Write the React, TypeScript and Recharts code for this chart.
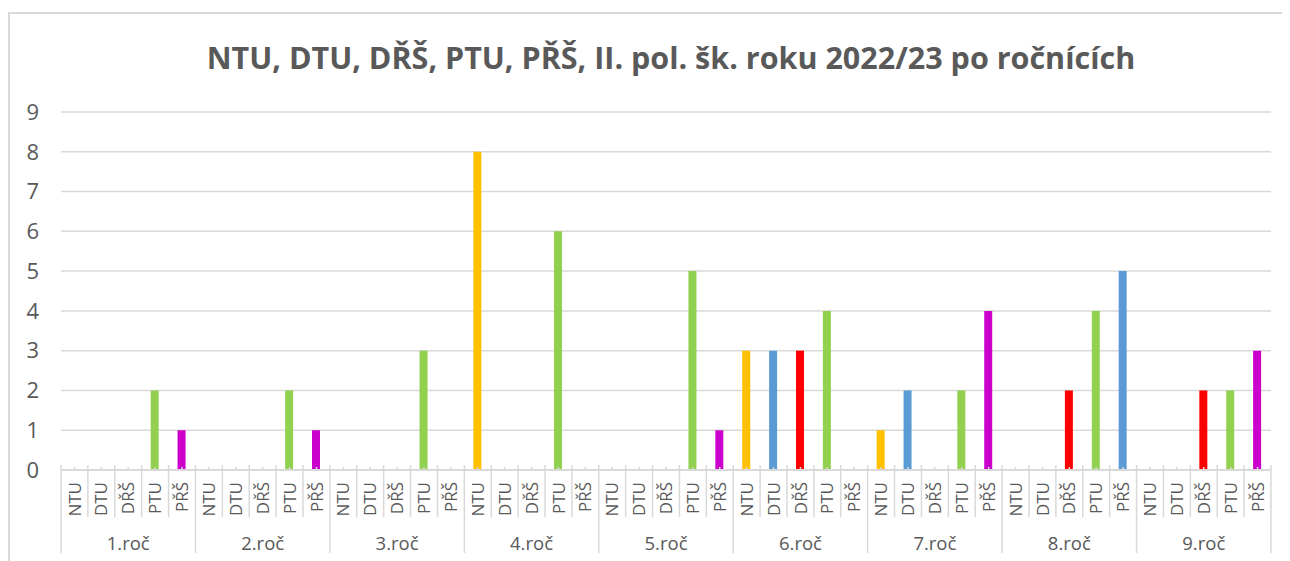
import React from 'react';
import { BarChart, Bar, XAxis, YAxis, CartesianGrid, Cell } from 'recharts';

const grades = ['1.roč', '2.roč', '3.roč', '4.roč', '5.roč', '6.roč', '7.roč', '8.roč', '9.roč'];
const subs = ['NTU', 'DTU', 'DŘŠ', 'PTU', 'PŘŠ'];
const ntu = [0, 0, 0, 8, 0, 3, 1, 0, 0];
const dtu = [0, 0, 0, 0, 0, 3, 2, 0, 0];
const drs = [0, 0, 0, 0, 0, 3, 0, 2, 2];
const ptu = [2, 2, 3, 6, 5, 4, 2, 4, 2];
const prs = [1, 1, 0, 0, 1, 0, 4, 5, 3];
const yTicks = [0, 1, 2, 3, 4, 5, 6, 7, 8, 9];

const subColors: Record<string, string> = {
  NTU: '#FFC000',
  DTU: '#5B9BD5',
  'DŘŠ': '#FF0000',
  PTU: '#92D050',
  'PŘŠ': '#CC00CC',
};
// point drawn in a different colour in the reference
const colorOverrides: Record<string, string> = { '8.roč|PŘŠ': '#5B9BD5' };

const seriesBySub = [ntu, dtu, drs, ptu, prs];
const data = grades.flatMap((g, gi) =>
  subs.map((s, si) => ({ key: `${g}|${s}`, grade: g, sub: s, value: seriesBySub[si][gi] }))
);

const TEXT = '#595959';
const LINE = '#D9D9D9';
const FONT = "'Open Sans', sans-serif";

const SubTick = (props: any) => {
  const { x, y, payload, index } = props;
  const off = payload && payload.offset ? payload.offset : 13.44;
  const d = data[index];
  const left = x - off;
  const isGroupStart = index % 5 === 0;
  const isLast = index === data.length - 1;
  return (
    <g>
      <line x1={left} x2={left} y1={y - 5} y2={isGroupStart ? y + 83 : y + 47} stroke={LINE} strokeWidth={1.5} />
      {isLast && <line x1={x + off} x2={x + off} y1={y - 5} y2={y + 83} stroke={LINE} strokeWidth={1.5} />}
      <line x1={x} x2={x} y1={y - 3} y2={y} stroke={LINE} strokeWidth={1.5} />
      <text
        x={x}
        y={y + 12}
        transform={`rotate(-90, ${x}, ${y + 12})`}
        textAnchor="end"
        dy="0.36em"
        fontSize={17}
        fill={TEXT}
        fontFamily={FONT}
      >
        {d ? d.sub : ''}
      </text>
      {index % 5 === 2 && d && (
        <text x={x} y={y + 73} textAnchor="middle" dy="0.36em" fontSize={18.5} fill={TEXT} fontFamily={FONT}>
          {d.grade}
        </text>
      )}
    </g>
  );
};

export default function App() {
  return (
    <div style={{ position: 'relative', width: 1282, height: 553, fontFamily: FONT }}>
      <div
        style={{
          position: 'absolute',
          left: 0,
          top: 4,
          width: 1282,
          height: 549,
          borderTop: `2px solid ${LINE}`,
          borderLeft: `2px solid ${LINE}`,
          boxSizing: 'border-box',
        }}
      />
      <div
        style={{
          position: 'absolute',
          left: 663,
          top: 27,
          transform: 'translateX(-50%)',
          whiteSpace: 'nowrap',
          fontSize: 30.5,
          fontWeight: 700,
          color: TEXT,
          lineHeight: '44px',
        }}
      >
        NTU, DTU, DŘŠ, PTU, PŘŠ, II. pol. šk. roku 2022/23 po ročnících
      </div>
      <div style={{ position: 'absolute', left: 0, top: 0 }}>
        <BarChart width={1282} height={553} data={data} margin={{ top: 104, right: 19, left: 8, bottom: 0 }}>
          <CartesianGrid vertical={false} stroke={LINE} strokeWidth={1.5} />
          <XAxis
            dataKey="key"
            interval={0}
            height={91}
            tickSize={0}
            tickMargin={0}
            tickLine={false}
            axisLine={{ stroke: LINE, strokeWidth: 2 }}
            tick={<SubTick />}
          />
          <YAxis
            domain={[0, 9]}
            ticks={yTicks}
            width={45}
            tickSize={0}
            tickMargin={22}
            tickLine={false}
            axisLine={false}
            tick={{ fill: TEXT, fontSize: 22, fontFamily: FONT }}
          />
          <Bar dataKey="value" barSize={8} isAnimationActive={false}>
            {data.map((d) => (
              <Cell key={d.key} fill={colorOverrides[d.key] || subColors[d.sub]} />
            ))}
          </Bar>
        </BarChart>
      </div>
    </div>
  );
}
